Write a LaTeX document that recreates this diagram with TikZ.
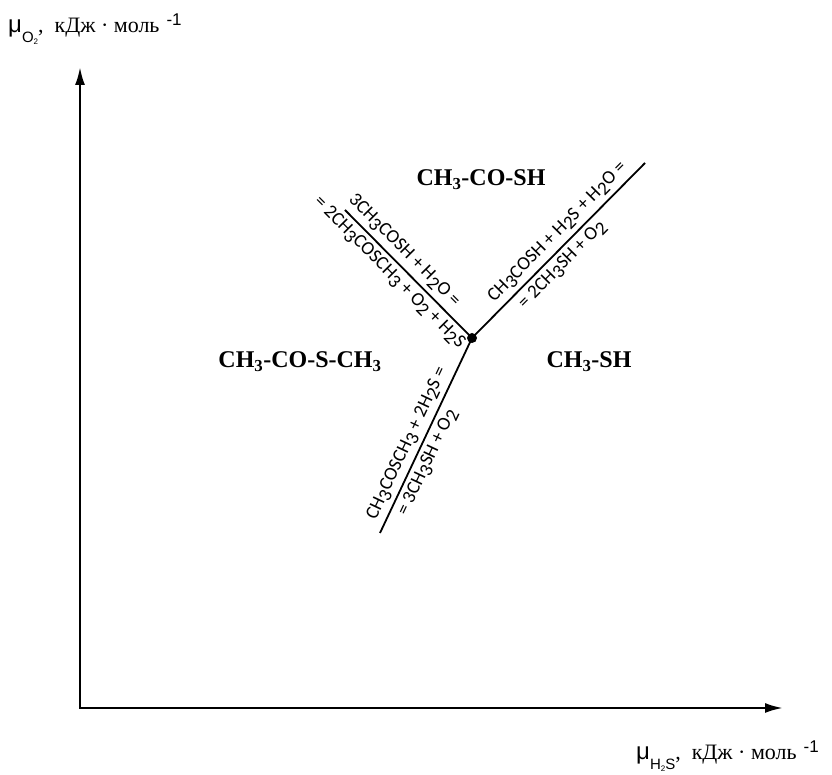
\documentclass[tikz,border=0pt]{standalone}
\usepackage{fontspec}
\setmainfont{Liberation Serif}
\newfontfamily\axfont{Liberation Sans}
\newfontfamily\eqfont{Carlito}
\usetikzlibrary{arrows.meta}
\newcommand{\ix}[1]{\raisebox{-0.45ex}{#1}}
\newcommand{\mulabel}[1]{{\axfont\fontsize{24}{24}\selectfont μ}\raisebox{-10pt}{\axfont\fontsize{15}{15}\selectfont #1},\hspace{11pt}кДж · моль\hspace{7pt}\raisebox{7pt}{\axfont\fontsize{17}{17}\selectfont -1}}

\begin{document}
\begin{tikzpicture}[x=1pt,y=1pt,
  axis/.style={line width=2.4pt,{Latex[length=18pt,width=10pt]}-{Latex[length=18pt,width=10pt]}},
  bound/.style={line width=1.8pt},
  phase/.style={font=\fontsize{24}{27}\selectfont\bfseries,inner sep=0pt},
  ax/.style={anchor=base west,inner sep=0pt,font=\fontsize{22}{26}\selectfont},
  eq/.style={font=\eqfont\fontsize{19}{21}\selectfont,sloped,inner sep=2pt}]
\useasboundingbox (0,0) rectangle (832,775);
% axes
\coordinate (o) at (80,67);
\coordinate (ytip) at (80,708);
\coordinate (xtip) at (783,67);
\draw[axis] (ytip) -- (o) -- (xtip);
\node[ax] (ylab) at (8,742) {\mulabel{O\raisebox{-2pt}{\fontsize{8}{8}\selectfont 2}}};
\node[ax] (xlab) at (636,15) {\mulabel{H\raisebox{-2pt}{\fontsize{8}{8}\selectfont 2}S}};
% phase fields
\node[phase] (acid) at (481,595) {CH\textsubscript{3}-CO-SH};
\node[phase] (ester) at (300,413) {CH\textsubscript{3}-CO-S-CH\textsubscript{3}};
\node[phase] (thiol) at (589,413) {CH\textsubscript{3}-SH};
% boundaries
\node[circle,fill,inner sep=0pt,minimum size=10pt] (tp) at (472,437) {};
\coordinate (ul) at (345,565);
\coordinate (ur) at (645,612);
\coordinate (lo) at (380,242);
\draw[bound] (ul) -- (tp.center)
  node[eq,pos=0.39,above=2pt] (e1) {3CH\ix3COSH + H\ix2O =}
  node[eq,pos=0.42,below=2pt] (e2) {= 2CH\ix3COSCH\ix3 + O\ix2 + H\ix2S};
\draw[bound] (tp.center) -- (ur)
  node[eq,pos=0.55,above=2pt] (e3) {CH\ix3COSH + H\ix2S + H\ix2O =}
  node[eq,pos=0.47,below=2pt] (e4) {= 2CH\ix3SH + O\ix2};
\draw[bound] (lo) -- (tp.center)
  node[eq,pos=0.43,above=2pt] (e5) {CH\ix3COSCH\ix3 + 2H\ix2S =}
  node[eq,pos=0.39,below=2pt] (e6) {= 3CH\ix3SH + O\ix2};
\end{tikzpicture}
\end{document}
